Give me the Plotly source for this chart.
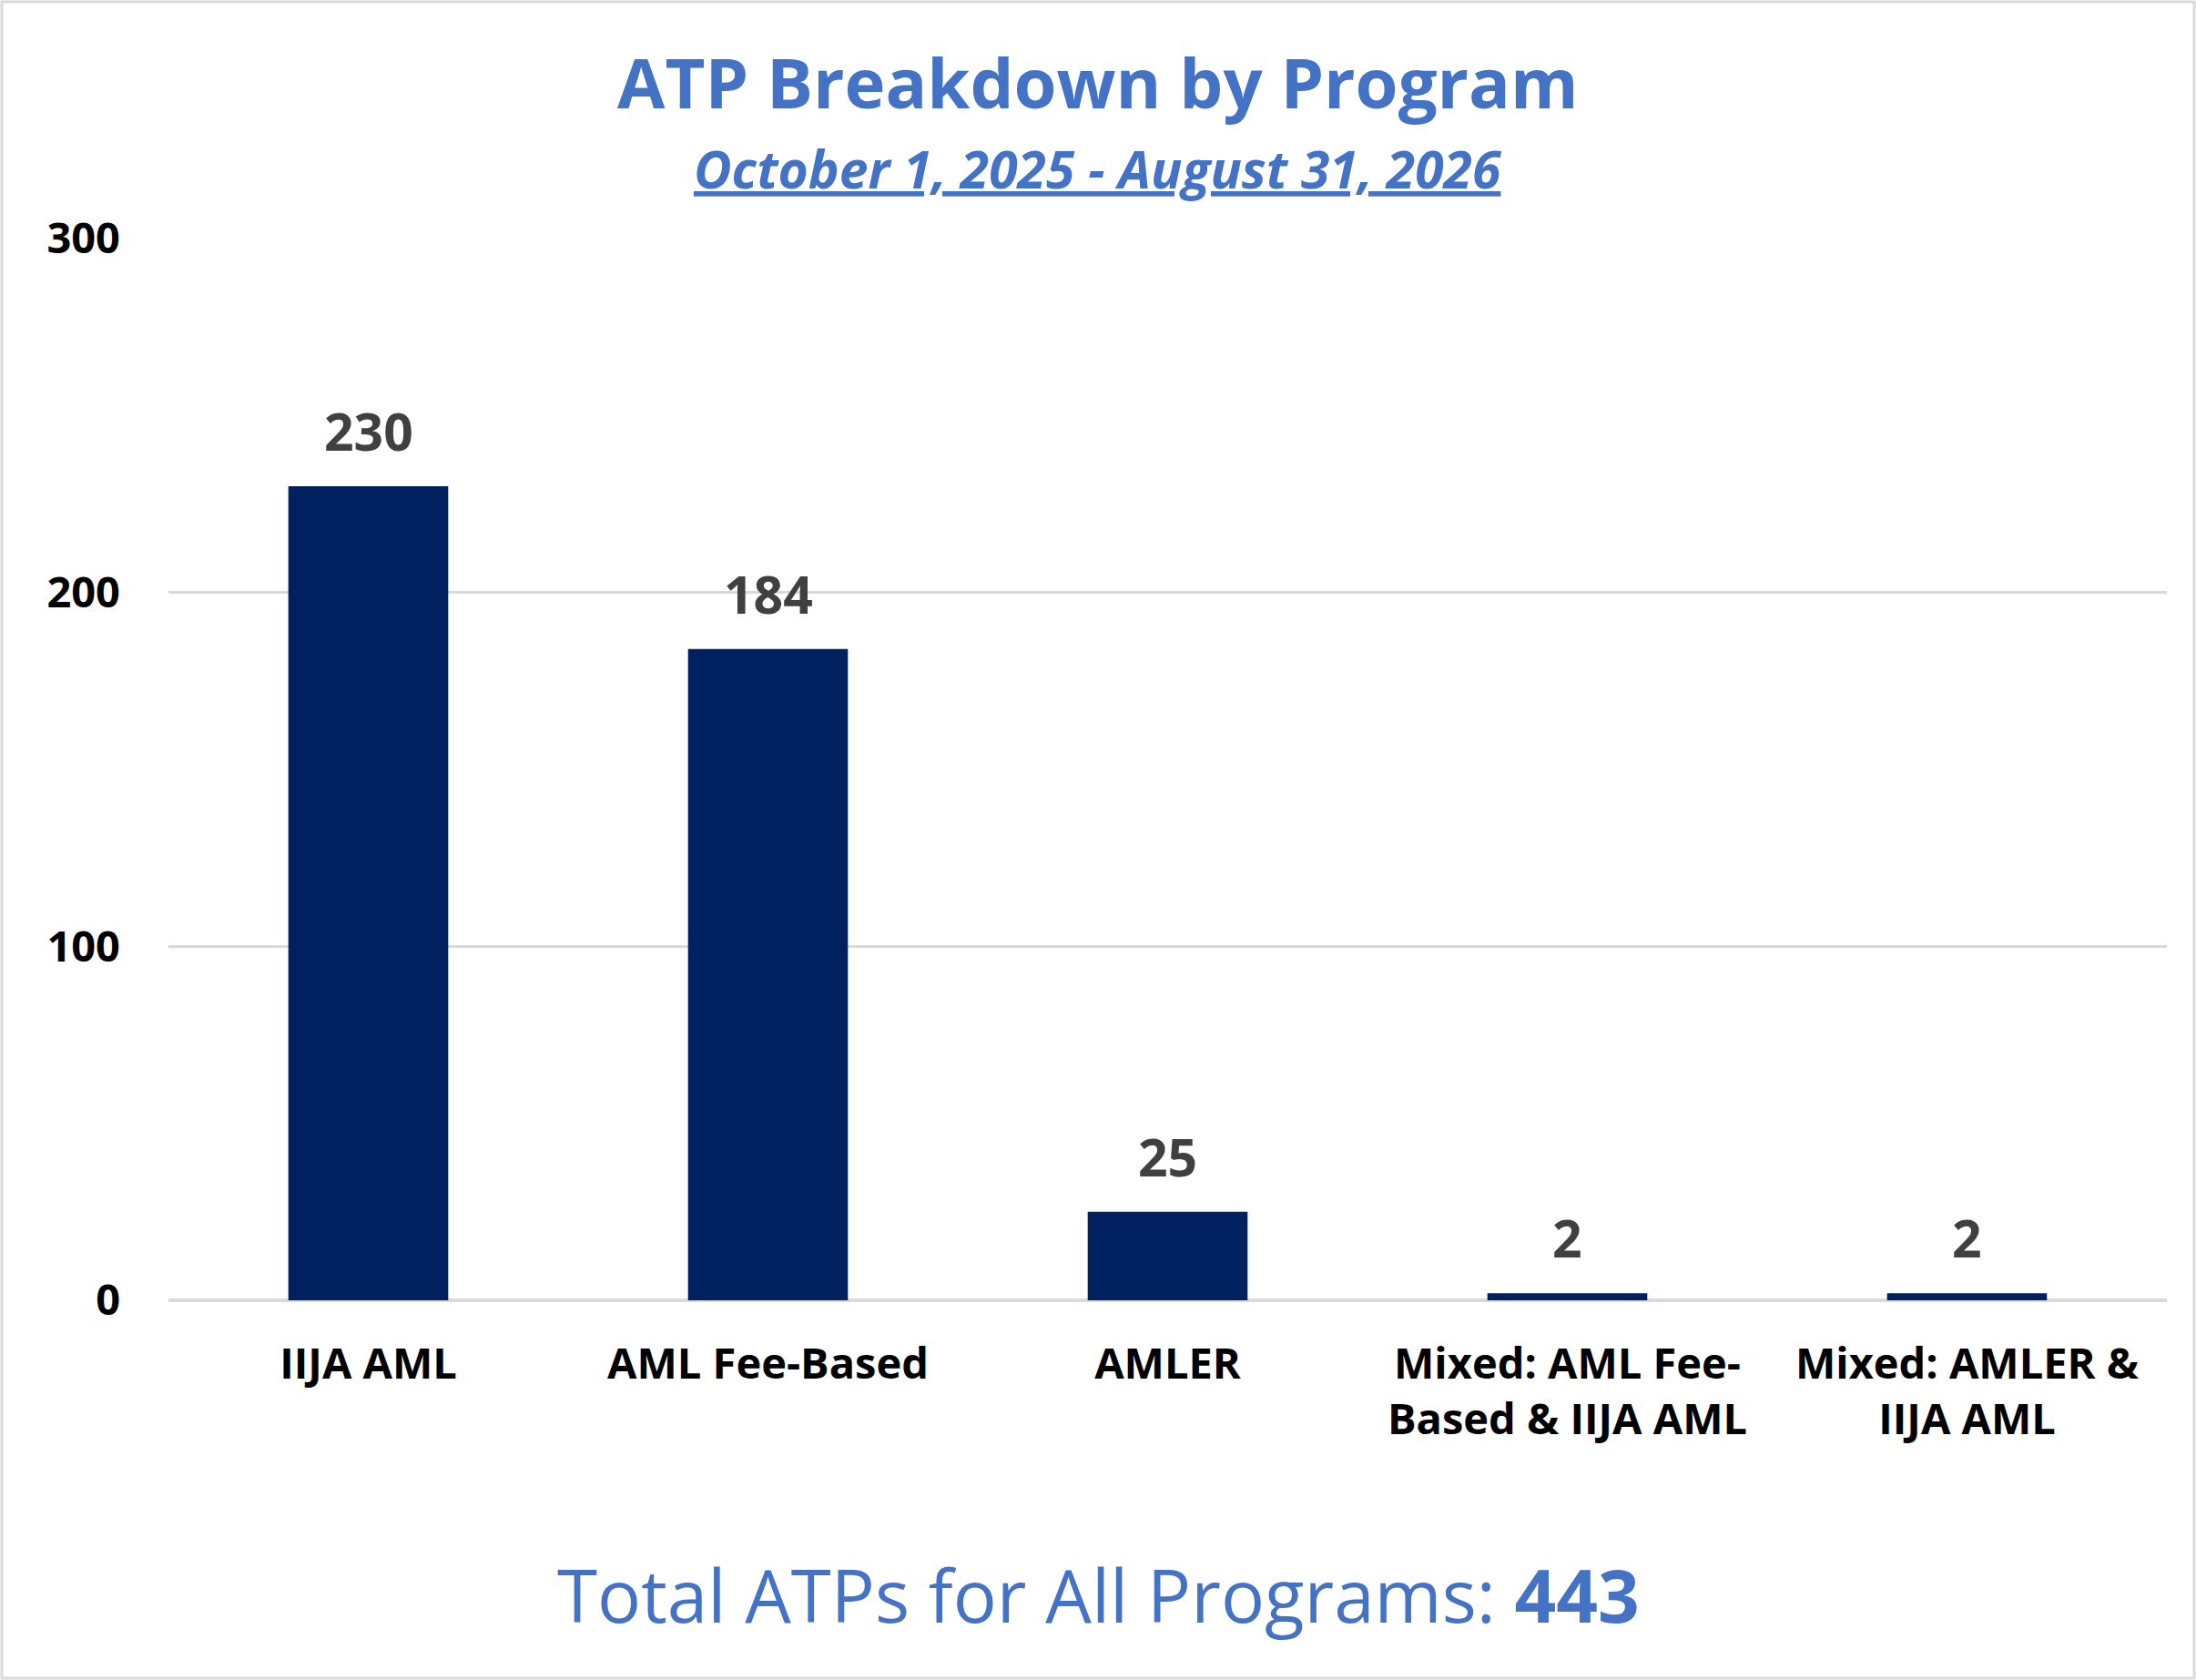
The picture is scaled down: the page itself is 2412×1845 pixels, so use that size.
"""ATP breakdown by program - bar chart."""

import plotly.graph_objects as go

programs = [
    "IIJA AML",
    "AML Fee-Based",
    "AMLER",
    "Mixed: AML Fee-<br>Based & IIJA AML",
    "Mixed: AMLER &<br>IIJA AML",
]
atp_counts = [230, 184, 25, 2, 2]
y_ticks = [0, 100, 200, 300]
total_atps = 443

WIDTH, HEIGHT = 2412, 1845
MARGIN = dict(l=185, r=32, t=262, b=417)
FONT = "Open Sans"
BLUE = "#4472C4"

pw = WIDTH - MARGIN["l"] - MARGIN["r"]
ph = HEIGHT - MARGIN["t"] - MARGIN["b"]
page_center = (WIDTH / 2 - MARGIN["l"]) / pw  # paper x of the page centre

fig = go.Figure()

fig.add_trace(go.Bar(
    x=programs,
    y=atp_counts,
    marker=dict(color="#002060", line=dict(width=0)),
    hoverinfo="x+y",
))

# data labels above each bar
for name, val in zip(programs, atp_counts):
    fig.add_annotation(
        x=name, y=val, text=f"<b>{val}</b>",
        showarrow=False, yanchor="bottom", yshift=20,
        font=dict(family=FONT, size=57, color="#404040"),
    )

# title, subtitle and total line (centred on the page)
fig.add_annotation(
    xref="paper", yref="paper", x=page_center, y=1.148, yanchor="middle",
    text="<b>ATP Breakdown by Program</b>", showarrow=False,
    font=dict(family=FONT, size=76, color=BLUE),
)
fig.add_annotation(
    xref="paper", yref="paper", x=page_center, y=1.066, yanchor="middle",
    text="<u><b><i>October 1, 2025 - August 31, 2026</i></b></u>", showarrow=False,
    font=dict(family=FONT, size=57, color=BLUE),
)
fig.add_annotation(
    xref="paper", yref="paper", x=page_center, y=-0.277, yanchor="middle",
    text=f"Total ATPs for All Programs: <b>{total_atps}</b>", showarrow=False,
    font=dict(family=FONT, size=80, color=BLUE),
)

# light grey frame round the whole picture
fig.add_shape(
    type="rect", xref="paper", yref="paper",
    x0=(2 - MARGIN["l"]) / pw, x1=(WIDTH - 2 - MARGIN["l"]) / pw,
    y0=-(MARGIN["b"] - 2) / ph, y1=1 + (MARGIN["t"] - 2) / ph,
    line=dict(color="#d9d9d9", width=3),
)

fig.update_layout(
    width=WIDTH,
    height=HEIGHT,
    margin=MARGIN,
    plot_bgcolor="white",
    paper_bgcolor="white",
    bargap=0.6,
    showlegend=False,
    font=dict(family=FONT),
    xaxis=dict(
        tickfont=dict(family=FONT, size=47, color="black", weight="bold"),
        showgrid=False,
        showline=False,
        ticks="",
        ticklabelstandoff=38,
    ),
    yaxis=dict(
        range=[0, 300],
        tickvals=y_ticks,
        tickfont=dict(family=FONT, size=47, color="black", weight="bold"),
        gridcolor="#d9d9d9",
        gridwidth=3,
        zeroline=True,
        zerolinecolor="#d9d9d9",
        zerolinewidth=4,
        showline=False,
        ticklabelstandoff=52,
    ),
)

fig.write_html(
    "out.html",
    config={"displayModeBar": False},
    post_script="document.body.style.margin='0';",
)
